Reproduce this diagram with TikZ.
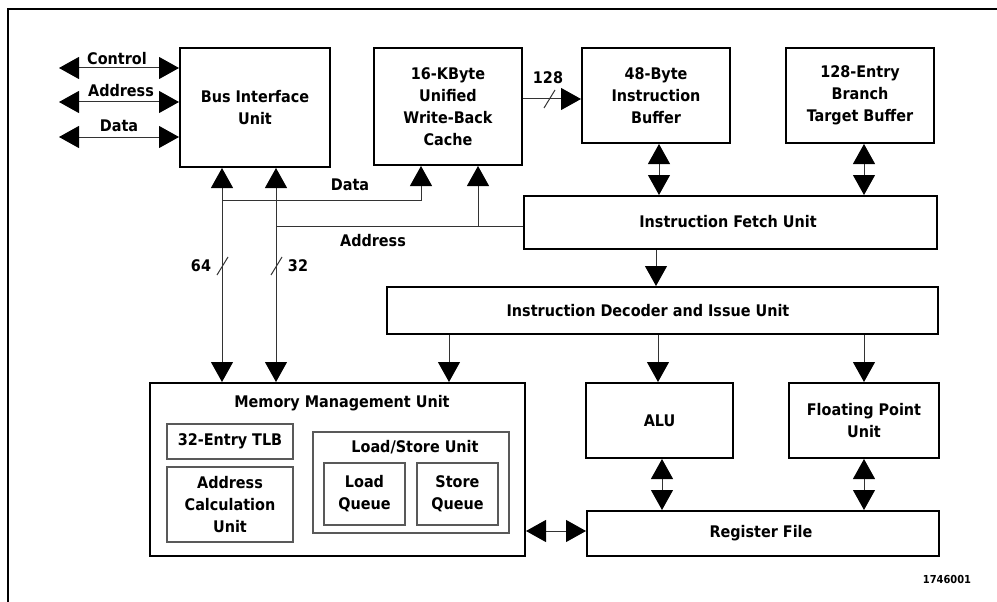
\documentclass[tikz,border=0pt]{standalone}
\usepackage{fontspec}
\setmainfont{DejaVu Sans Condensed}
\usetikzlibrary{arrows.meta}
\begin{document}
\begin{tikzpicture}[x=1pt,y=-1pt,
  every node/.style={font=\fontsize{16}{22}\selectfont\bfseries, align=center, inner sep=0pt},
  blk/.style={draw=black, line width=2pt, fill=white},
  subbox/.style={draw=black!65, line width=1.1pt},
  conn/.style={draw=black!80, line width=1pt},
  >={Triangle[length=20pt,width=22pt,color=black]}]
\useasboundingbox (0,0) rectangle (997,602);
% frame
\draw[line width=2.2pt] (8,602) -- (8,9) -- (997,9);

% main boxes
\node[blk, minimum width=150pt, minimum height=119pt] (biu) at (255,107.5) {Bus Interface\\Unit};
\node[blk, minimum width=148pt, minimum height=117pt] (cache) at (448,106.5) {16-KByte\\Unified\\Write-Back\\Cache};
\node[blk, minimum width=148pt, minimum height=95pt] (ib) at (656,95.5) {48-Byte\\Instruction\\Buffer};
\node[blk, minimum width=148pt, minimum height=95pt] (btb) at (860,95.5) {128-Entry\\Branch\\Target Buffer};
\node[blk, minimum width=413pt, minimum height=53pt] (ifu) at (730.5,222.5) {};
\node (ifut) at (728,222) {Instruction Fetch Unit};
\node[blk, minimum width=551pt, minimum height=47pt] (idiu) at (662.5,310.5) {};
\node (idiut) at (648,311) {Instruction Decoder and Issue Unit};
\node[blk, minimum width=375pt, minimum height=173pt] (mmu) at (337.5,469.5) {};
\node (mmut) at (342,403) {Memory Management Unit};
\node[blk, minimum width=147pt, minimum height=75pt] (alu) at (659.5,420.5) {ALU};
\node[blk, minimum width=150pt, minimum height=75pt] (fpu) at (864,420.5) {Floating Point\\Unit};
\node[blk, minimum width=352pt, minimum height=45pt] (rf) at (763,533.5) {};
\node (rft) at (761,533) {Register File};

% MMU inner boxes
\node[subbox, minimum width=126pt, minimum height=35pt] (tlb) at (230,441.5) {32-Entry TLB};
\node[subbox, minimum width=126pt, minimum height=75pt] (acu) at (230,504.5) {Address\\Calculation\\Unit};
\node[subbox, minimum width=196pt, minimum height=101pt] (lsu) at (411,482.5) {};
\node (lsut) at (415,447) {Load/Store Unit};
\node[subbox, minimum width=81pt, minimum height=62pt] (lq) at (364.5,494) {Load\\Queue};
\node[subbox, minimum width=81pt, minimum height=62pt] (sq) at (457.5,494) {Store\\Queue};

% external bus
\coordinate (ctlL) at (59,68);
\coordinate (adrL) at (59,102);
\coordinate (datL) at (59,137);
\draw[conn,<->] (ctlL) -- (ctlL -| biu.west);
\draw[conn,<->] (adrL) -- (adrL -| biu.west);
\draw[conn,<->] (datL) -- (datL -| biu.west);
\node (lctl) at (117,59) {Control};
\node (ladr) at (121,91) {Address};
\node (ldat) at (119,126) {Data};

% internal buses
\coordinate (c64) at (222,0);
\coordinate (c32) at (276,0);
\coordinate (dataY) at (0,200);
\coordinate (addrY) at (0,226);
\coordinate (cD) at (421,0);
\coordinate (cA) at (478,0);
\draw[conn,<->] (c64 |- mmu.north) -- (c64 |- biu.south);
\draw[conn,<->] (c32 |- mmu.north) -- (c32 |- biu.south);
\draw[conn,->] (c64 |- dataY) -| (cD |- cache.south);
\draw[conn] (c32 |- addrY) -- (addrY -| ifu.west);
\draw[conn,->] (cA |- addrY) -- (cA |- cache.south);
\node (ldata2) at (350,185) {Data};
\node (laddr2) at (373,241) {Address};
\draw[conn] (217,275) -- (228,257);
\draw[conn] (271,275) -- (282,257);
\node (l64) at (201,266) {64};
\node (l32) at (298,266) {32};

% cache to instruction buffer
\coordinate (y128) at (0,99);
\draw[conn,->] (cache.east |- y128) -- (ib.west |- y128);
\draw[conn] (544,108) -- (555,90);
\node (l128) at (548,78) {128};

% fetch / decode
\coordinate (xib) at (659,0);
\coordinate (xbtb) at (864,0);
\coordinate (xfd) at (656,0);
\coordinate (xmmu) at (449,0);
\coordinate (xalu) at (658,0);
\coordinate (xalurf) at (662,0);
\draw[conn,<->] (xib |- ib.south) -- (xib |- ifu.north);
\draw[conn,<->] (xbtb |- btb.south) -- (xbtb |- ifu.north);
\draw[conn,->] (xfd |- ifu.south) -- (xfd |- idiu.north);
\draw[conn,->] (xmmu |- idiu.south) -- (xmmu |- mmu.north);
\draw[conn,->] (xalu |- idiu.south) -- (xalu |- alu.north);
\draw[conn,->] (xbtb |- idiu.south) -- (xbtb |- fpu.north);
\draw[conn,<->] (xalurf |- alu.south) -- (xalurf |- rf.north);
\draw[conn,<->] (xbtb |- fpu.south) -- (xbtb |- rf.north);
\coordinate (yrf) at (0,531);
\draw[conn,<->] (mmu.east |- yrf) -- (rf.west |- yrf);

\node[font=\fontsize{11}{13}\selectfont\bfseries] (fig) at (947,579) {1746001};
\end{tikzpicture}
\end{document}
